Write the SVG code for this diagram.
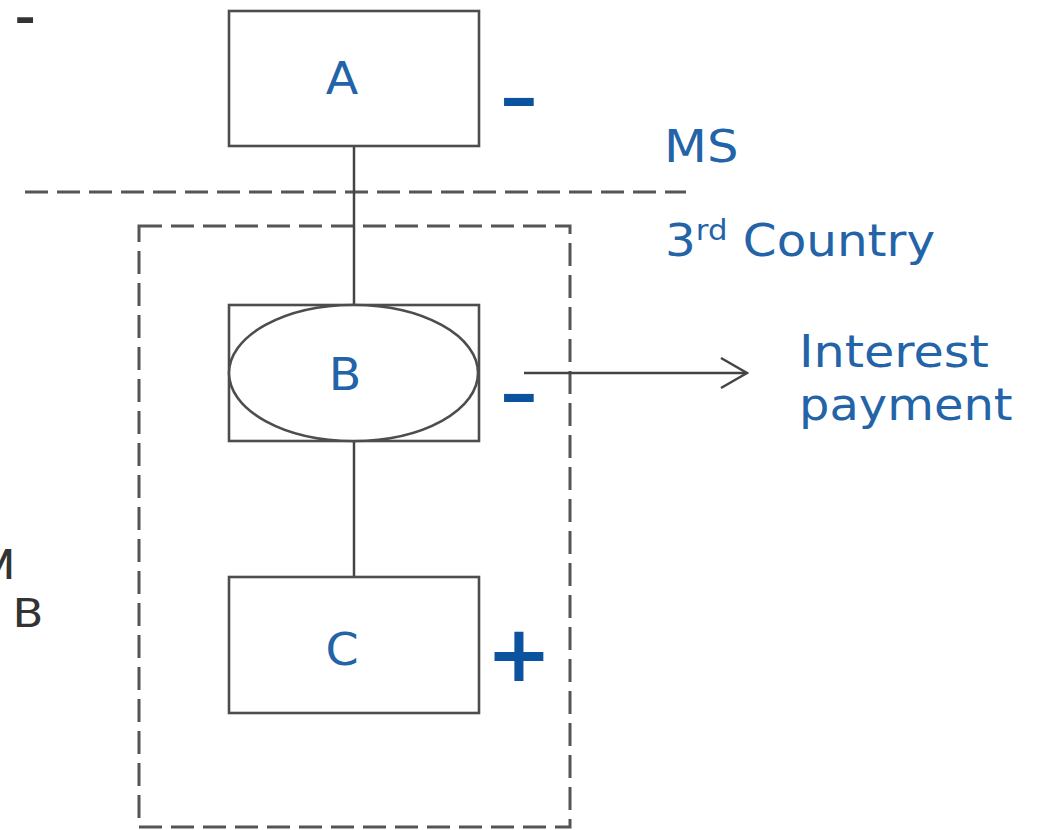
<svg xmlns="http://www.w3.org/2000/svg" width="1040" height="830" viewBox="0 0 1040 830">
  <style>
    .box { fill: #ffffff; stroke: #4d4d4d; stroke-width: 2.6; }
    .link { stroke: #444444; stroke-width: 2.5; fill: none; }
    .dash { stroke: #555555; stroke-width: 3; fill: none; stroke-dasharray: 23 9; }
    .lbl { font-family: "DejaVu Sans", Verdana, sans-serif; font-size: 44px; fill: #2363a8; }
    .sign { font-family: "DejaVu Sans", Verdana, sans-serif; font-weight: bold; fill: #0b529f; }
    .edge { font-family: Roboto, "Liberation Sans", sans-serif; fill: #333333; }
  </style>
  <defs>
    <marker id="open" viewBox="0 0 30 34" refX="28" refY="17" markerWidth="30" markerHeight="34" markerUnits="userSpaceOnUse" orient="auto">
      <path d="M2 2 L28 17 L2 32" fill="none" stroke="#444444" stroke-width="2.5"/>
    </marker>
  </defs>

  <!-- fragments along the left edge -->
  <g id="edge-text">
    <text class="edge" x="14" y="36" font-size="52" font-weight="bold" transform="translate(14 0) scale(1.1 1) translate(-14 0)">-</text>
    <text class="edge" x="-27" y="579" font-size="42" transform="translate(-27 0) scale(1.15 1) translate(27 0)">M</text>
    <text class="edge" x="13" y="627" font-size="40" transform="translate(13 0) scale(1.2 1) translate(-13 0)">B</text>
  </g>

  <!-- jurisdiction boundary and third-country frame -->
  <g id="boundaries">
    <line class="dash" x1="25" y1="192" x2="686" y2="192"/>
    <rect class="dash" x="139" y="226" width="431" height="601"/>
  </g>

  <g id="connectors">
    <line class="link" x1="354" y1="146" x2="354" y2="305"/>
    <line class="link" x1="354" y1="441" x2="354" y2="577"/>
    <line class="link" x1="524" y1="373" x2="747" y2="373" marker-end="url(#open)"/>
  </g>

  <g id="node-A">
    <rect class="box" x="229" y="11" width="250" height="135"/>
    <text class="lbl" x="342" y="94" text-anchor="middle" transform="translate(342 0) scale(1.08 1) translate(-342 0)">A</text>
  </g>

  <g id="node-B">
    <rect class="box" x="229" y="305" width="250" height="136"/>
    <ellipse class="box" cx="353.5" cy="373" rx="124.5" ry="68"/>
    <text class="lbl" x="345" y="390" text-anchor="middle" transform="translate(345 0) scale(1.08 1) translate(-345 0)">B</text>
  </g>

  <g id="node-C">
    <rect class="box" x="229" y="577" width="250" height="136"/>
    <text class="lbl" x="342" y="665" text-anchor="middle" transform="translate(342 0) scale(1.08 1) translate(-342 0)">C</text>
  </g>

  <g id="signs">
    <text class="sign" x="519" y="120" font-size="64" text-anchor="middle" transform="translate(519 0) scale(1.18 1) translate(-519 0)">–</text>
    <text class="sign" x="519" y="416" font-size="64" text-anchor="middle" transform="translate(519 0) scale(1.18 1) translate(-519 0)">–</text>
    <text class="sign" x="519" y="681" font-size="78" text-anchor="middle">+</text>
  </g>

  <g id="region-labels">
    <text class="lbl" x="664" y="162" transform="translate(664 0) scale(1.13 1) translate(-664 0)">MS</text>
    <text class="lbl" x="665" y="256" transform="translate(665 0) scale(1.1 1) translate(-665 0)">3<tspan font-size="28" dy="-16">rd</tspan><tspan dy="16"> Country</tspan></text>
  </g>

  <g id="flow-label">
    <text class="lbl" x="799" y="367" transform="translate(799 0) scale(1.12 1) translate(-799 0)">Interest</text>
    <text class="lbl" x="799" y="420" transform="translate(799 0) scale(1.09 1) translate(-799 0)">payment</text>
  </g>
</svg>
